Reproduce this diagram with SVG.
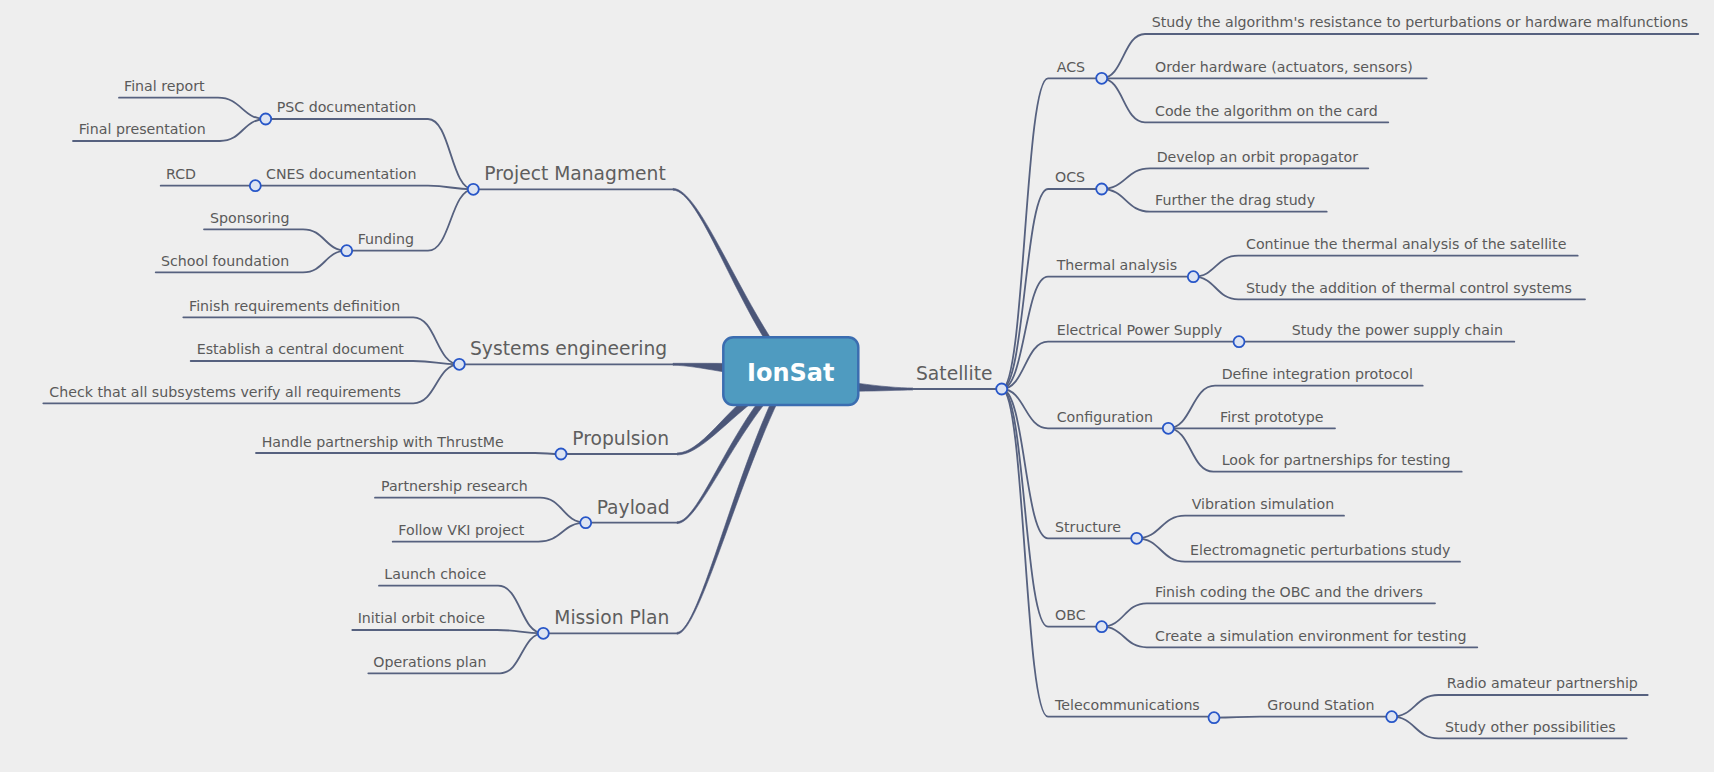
<svg xmlns="http://www.w3.org/2000/svg" width="1714" height="772" viewBox="0 0 1714 772">
<style>
.bg{fill:#eeeeee}
.t{font-family:"DejaVu Sans","Liberation Sans",sans-serif;font-size:14.2px;fill:#5a5a5a}
.t1{font-family:"DejaVu Sans","Liberation Sans",sans-serif;font-size:18.7px;fill:#5e5e5e}
.root{font-family:"DejaVu Sans","Liberation Sans",sans-serif;font-size:24px;font-weight:bold;fill:#ffffff}
.l{fill:none;stroke:#56617f;stroke-width:1.8;stroke-linecap:round}
.m{fill:#4b5678;stroke:#4b5678;stroke-width:0.6}
.c{fill:#dde4f2;stroke:#2756c8;stroke-width:1.8}
.box{fill:#4f9bc0;stroke:#3b6db0;stroke-width:2.5}
</style>
<rect class="bg" x="0" y="0" width="1714" height="772"/>

<g id="connectors">
  <!-- main tapered edges -->
  <path class="m" d="M673,190.2 C700,190.2 735.6,306.9 787.6,372.9 L792.4,369.1 C740.4,303.1 700,188.4 673,188.4 Z"/>
  <path class="m" d="M673,365.3 C700,365.3 734.75,377 789.75,379 L790.25,365 C735.25,363 700,363.3 673,363.3 Z"/>
  <path class="m" d="M677,455 C705,455 737.33,404.42 792.33,375.42 L787.67,366.58 C732.67,395.58 705,453 677,453 Z"/>
  <path class="m" d="M677,523.6 C700,523.6 737.3,422.6 792.3,373.6 L787.7,368.4 C732.7,417.4 700,521.8 677,521.8 Z"/>
  <path class="m" d="M677,634.2 C700,634.2 742.6,461.5 792.6,372.5 L787.4,369.5 C737.4,458.5 700,632.4 677,632.4 Z"/>
  <path class="m" d="M913,388 C885,388 836.52,381.17 791.52,371.17 L788.48,384.83 C833.48,394.83 885,390 913,390 Z"/>

  <!-- level-1 horizontal lines -->
  <path class="l" d="M473.3,189.3 L673,189.3"/>
  <path class="l" d="M459.3,364.3 L673,364.3"/>
  <path class="l" d="M561,454 L677,454"/>
  <path class="l" d="M585.7,522.7 L677,522.7"/>
  <path class="l" d="M543.3,633.3 L677,633.3"/>
  <path class="l" d="M913,389 L1001.7,389"/>

  <!-- Project Managment children -->
  <path class="l" d="M473.3,189.3 C450.65,189.3 450.65,119 428,119 L265.7,119"/>
  <path class="l" d="M473.3,189.3 C450.65,189.3 450.65,185.7 428,185.7 L255.3,185.7"/>
  <path class="l" d="M473.3,189.3 C450.65,189.3 450.65,250.7 428,250.7 L346.7,250.7"/>
  <path class="l" d="M265.7,119 C241.85,119 241.85,97.7 218,97.7 L119,97.7"/>
  <path class="l" d="M265.7,119 C242.85,119 242.85,141 220,141 L73,141"/>
  <path class="l" d="M255.3,185.7 L160.7,185.7"/>
  <path class="l" d="M346.7,250.7 C324.85,250.7 324.85,229.3 303,229.3 L204,229.3"/>
  <path class="l" d="M346.7,250.7 C324.85,250.7 324.85,272.3 303,272.3 L155.7,272.3"/>

  <!-- Systems engineering children -->
  <path class="l" d="M459.3,364.3 C436.3,364.3 436.3,317.3 413.3,317.3 L183.3,317.3"/>
  <path class="l" d="M459.3,364.3 C436.3,364.3 436.3,361 413.3,361 L190.7,361"/>
  <path class="l" d="M459.3,364.3 C436.3,364.3 436.3,403.3 413.3,403.3 L43.3,403.3"/>

  <!-- Propulsion child -->
  <path class="l" d="M561,454 C550,454 545,453 535,453 L256,453"/>

  <!-- Payload children -->
  <path class="l" d="M585.7,522.7 C562.85,522.7 562.85,497.7 540,497.7 L375,497.7"/>
  <path class="l" d="M585.7,522.7 C562,522.7 562,541.7 538.3,541.7 L392.7,541.7"/>

  <!-- Mission Plan children -->
  <path class="l" d="M543.3,633.3 C520.65,633.3 520.65,585.7 498,585.7 L379,585.7"/>
  <path class="l" d="M543.3,633.3 C520.15,633.3 520.15,630 497,630 L352.3,630"/>
  <path class="l" d="M543.3,633.3 C521.65,633.3 521.65,673.3 500,673.3 L368.3,673.3"/>

  <!-- Satellite children -->
  <path class="l" d="M1001.7,389 C1024.85,389 1024.85,78.3 1048,78.3 L1101.7,78.3"/>
  <path class="l" d="M1001.7,389 C1024.85,389 1024.85,189 1048,189 L1101.7,189"/>
  <path class="l" d="M1001.7,389 C1024.85,389 1024.85,276.7 1048,276.7 L1193.3,276.7"/>
  <path class="l" d="M1001.7,389 C1024.85,389 1024.85,341.7 1048,341.7 L1239,341.7"/>
  <path class="l" d="M1001.7,389 C1024.85,389 1024.85,428.3 1048,428.3 L1168.3,428.3"/>
  <path class="l" d="M1001.7,389 C1024.85,389 1024.85,538.3 1048,538.3 L1136.7,538.3"/>
  <path class="l" d="M1001.7,389 C1024.85,389 1024.85,626.7 1048,626.7 L1101.7,626.7"/>
  <path class="l" d="M1001.7,389 C1024.85,389 1024.85,716.7 1048,716.7 L1214,716.7"/>

  <!-- ACS children -->
  <path class="l" d="M1101.7,78.3 C1123.35,78.3 1123.35,34 1145,34 L1698.3,34"/>
  <path class="l" d="M1101.7,78.3 L1426.7,78.3"/>
  <path class="l" d="M1101.7,78.3 C1123.35,78.3 1123.35,122.3 1145,122.3 L1388.3,122.3"/>
  <!-- OCS children -->
  <path class="l" d="M1101.7,189 C1125.85,189 1125.85,168.3 1150,168.3 L1368.3,168.3"/>
  <path class="l" d="M1101.7,189 C1125.85,189 1125.85,211.7 1150,211.7 L1326.7,211.7"/>
  <!-- Thermal children -->
  <path class="l" d="M1193.3,276.7 C1215.8,276.7 1215.8,255.7 1238.3,255.7 L1577.7,255.7"/>
  <path class="l" d="M1193.3,276.7 C1215.8,276.7 1215.8,299.3 1238.3,299.3 L1585,299.3"/>
  <!-- EPS child -->
  <path class="l" d="M1239,341.7 L1514.3,341.7"/>
  <!-- Configuration children -->
  <path class="l" d="M1168.3,428.3 C1191.65,428.3 1191.65,385.7 1215,385.7 L1422.7,385.7"/>
  <path class="l" d="M1168.3,428.3 L1335,428.3"/>
  <path class="l" d="M1168.3,428.3 C1190.8,428.3 1190.8,471.7 1213.3,471.7 L1461.7,471.7"/>
  <!-- Structure children -->
  <path class="l" d="M1136.7,538.3 C1160.85,538.3 1160.85,515.7 1185,515.7 L1344,515.7"/>
  <path class="l" d="M1136.7,538.3 C1160.85,538.3 1160.85,561.7 1185,561.7 L1460,561.7"/>
  <!-- OBC children -->
  <path class="l" d="M1101.7,626.7 C1124.2,626.7 1124.2,603.3 1146.7,603.3 L1435,603.3"/>
  <path class="l" d="M1101.7,626.7 C1124.2,626.7 1124.2,647.3 1146.7,647.3 L1477.3,647.3"/>
  <!-- Telecom / Ground Station -->
  <path class="l" d="M1214,717.7 C1237,717.7 1237,716.7 1260,716.7 L1391.7,716.7"/>
  <path class="l" d="M1391.7,716.7 C1415,716.7 1415,695 1438.3,695 L1647.7,695"/>
  <path class="l" d="M1391.7,716.7 C1415,716.7 1415,738.3 1438.3,738.3 L1626.7,738.3"/>
</g>

<!-- Root -->
<g id="root">
  <rect class="box" x="723.3" y="337.3" width="135" height="67.7" rx="10" ry="10"/>
  <text class="root" x="790.8" y="380.7" text-anchor="middle">IonSat</text>
</g>

<!-- Left branch nodes -->
<g id="n-pm"><circle class="c" cx="473.3" cy="189.3" r="5.5"/><text class="t1" x="484.3" y="180">Project Managment</text></g>
<g id="n-psc"><circle class="c" cx="265.7" cy="119" r="5.5"/><text class="t" x="276.7" y="112.3">PSC documentation</text></g>
<g id="n-final-report"><text class="t" x="124" y="91">Final report</text></g>
<g id="n-final-pres"><text class="t" x="78.7" y="134.3">Final presentation</text></g>
<g id="n-cnes"><circle class="c" cx="255.3" cy="185.7" r="5.5"/><text class="t" x="266" y="179">CNES documentation</text></g>
<g id="n-rcd"><text class="t" x="166" y="179">RCD</text></g>
<g id="n-funding"><circle class="c" cx="346.7" cy="250.7" r="5.5"/><text class="t" x="357.7" y="244">Funding</text></g>
<g id="n-sponsoring"><text class="t" x="210" y="222.6">Sponsoring</text></g>
<g id="n-school"><text class="t" x="161" y="265.6">School foundation</text></g>

<g id="n-se"><circle class="c" cx="459.3" cy="364.3" r="5.5"/><text class="t1" x="470" y="355.3">Systems engineering</text></g>
<g id="n-req"><text class="t" x="189" y="310.6">Finish requirements definition</text></g>
<g id="n-central"><text class="t" x="196.7" y="354.3">Establish a central document</text></g>
<g id="n-check"><text class="t" x="49.3" y="396.6">Check that all subsystems verify all requirements</text></g>

<g id="n-prop"><circle class="c" cx="561" cy="454" r="5.5"/><text class="t1" x="572.3" y="445">Propulsion</text></g>
<g id="n-thrustme"><text class="t" x="261.7" y="446.5">Handle partnership with ThrustMe</text></g>

<g id="n-payload"><circle class="c" cx="585.7" cy="522.7" r="5.5"/><text class="t1" x="596.7" y="513.5">Payload</text></g>
<g id="n-partres"><text class="t" x="381" y="491">Partnership research</text></g>
<g id="n-vki"><text class="t" x="398.3" y="535">Follow VKI project</text></g>

<g id="n-mp"><circle class="c" cx="543.3" cy="633.3" r="5.5"/><text class="t1" x="554.3" y="624">Mission Plan</text></g>
<g id="n-launch"><text class="t" x="384.3" y="579">Launch choice</text></g>
<g id="n-orbit"><text class="t" x="357.7" y="623.3">Initial orbit choice</text></g>
<g id="n-ops"><text class="t" x="373.3" y="666.6">Operations plan</text></g>

<!-- Right branch nodes -->
<g id="n-sat"><circle class="c" cx="1001.7" cy="389" r="5.5"/><text class="t1" x="916" y="380">Satellite</text></g>

<g id="n-acs"><circle class="c" cx="1101.7" cy="78.3" r="5.5"/><text class="t" x="1056.7" y="71.6">ACS</text></g>
<g id="n-acs1"><text class="t" x="1151.7" y="27.4">Study the algorithm's resistance to perturbations or hardware malfunctions</text></g>
<g id="n-acs2"><text class="t" x="1155" y="71.6">Order hardware (actuators, sensors)</text></g>
<g id="n-acs3"><text class="t" x="1155" y="115.6">Code the algorithm on the card</text></g>

<g id="n-ocs"><circle class="c" cx="1101.7" cy="189" r="5.5"/><text class="t" x="1055" y="182.4">OCS</text></g>
<g id="n-ocs1"><text class="t" x="1156.7" y="161.6">Develop an orbit propagator</text></g>
<g id="n-ocs2"><text class="t" x="1155" y="205">Further the drag study</text></g>

<g id="n-thermal"><circle class="c" cx="1193.3" cy="276.7" r="5.5"/><text class="t" x="1056.7" y="270">Thermal analysis</text></g>
<g id="n-th1"><text class="t" x="1246" y="249">Continue the thermal analysis of the satellite</text></g>
<g id="n-th2"><text class="t" x="1246" y="292.6">Study the addition of thermal control systems</text></g>

<g id="n-eps"><circle class="c" cx="1239" cy="341.7" r="5.5"/><text class="t" x="1056.7" y="335">Electrical Power Supply</text></g>
<g id="n-eps1"><text class="t" x="1291.7" y="335">Study the power supply chain</text></g>

<g id="n-config"><circle class="c" cx="1168.3" cy="428.3" r="5.5"/><text class="t" x="1056.7" y="421.6">Configuration</text></g>
<g id="n-cf1"><text class="t" x="1221.7" y="379">Define integration protocol</text></g>
<g id="n-cf2"><text class="t" x="1220" y="421.6">First prototype</text></g>
<g id="n-cf3"><text class="t" x="1221.7" y="465">Look for partnerships for testing</text></g>

<g id="n-struct"><circle class="c" cx="1136.7" cy="538.3" r="5.5"/><text class="t" x="1055" y="531.6">Structure</text></g>
<g id="n-st1"><text class="t" x="1191.7" y="509">Vibration simulation</text></g>
<g id="n-st2"><text class="t" x="1190" y="555">Electromagnetic perturbations study</text></g>

<g id="n-obc"><circle class="c" cx="1101.7" cy="626.7" r="5.5"/><text class="t" x="1055" y="620">OBC</text></g>
<g id="n-obc1"><text class="t" x="1155" y="596.6">Finish coding the OBC and the drivers</text></g>
<g id="n-obc2"><text class="t" x="1155" y="640.6">Create a simulation environment for testing</text></g>

<g id="n-telecom"><circle class="c" cx="1214" cy="717.7" r="5.5"/><text class="t" x="1055" y="710">Telecommunications</text></g>
<g id="n-gs"><circle class="c" cx="1391.7" cy="716.7" r="5.5"/><text class="t" x="1267.3" y="710">Ground Station</text></g>
<g id="n-gs1"><text class="t" x="1446.7" y="688.3">Radio amateur partnership</text></g>
<g id="n-gs2"><text class="t" x="1445" y="732">Study other possibilities</text></g>
</svg>
